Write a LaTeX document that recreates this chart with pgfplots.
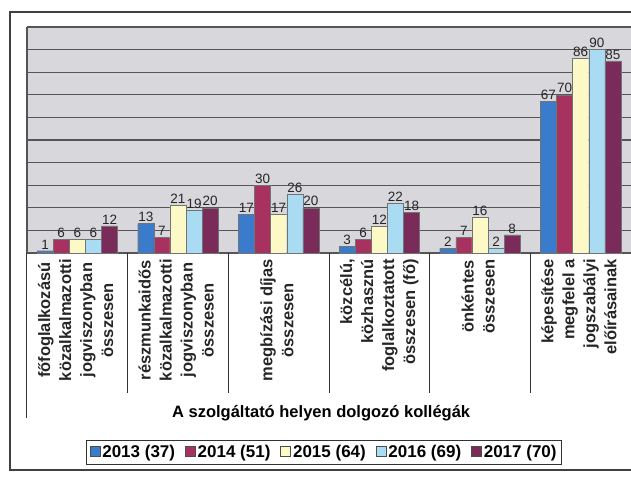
\documentclass[border=0pt]{standalone}
\usepackage{fontspec}
\setmainfont{Liberation Sans}
\usepackage{pgfplots}
\pgfplotsset{compat=1.18}

\definecolor{y13}{HTML}{3A7CCB}
\definecolor{y14}{HTML}{A8325F}
\definecolor{y15}{HTML}{FCF9C6}
\definecolor{y16}{HTML}{A9DBF2}
\definecolor{y17}{HTML}{7A2B5A}
\definecolor{plotbg}{HTML}{D8D8DC}
\definecolor{gridc}{HTML}{555555}

% category label blocks: centred or flush to the axis
\newcommand{\catc}[1]{\begin{tabular}{@{}c@{}}#1\end{tabular}}
\newcommand{\catr}[1]{\begin{tabular}{@{}r@{}}#1\end{tabular}}

\begin{document}
\begin{tikzpicture}
\begin{axis}[
    scale only axis,
    width=604pt, height=226pt,
    clip=false,
    ybar=0pt, bar width=0.16,
    xmin=-0.5, xmax=5.5,
    ymin=0, ymax=100,
    ytick={0,10,...,100},
    yticklabels={},
    ymajorgrids,
    major grid style={draw=gridc, line width=1.3pt},
    major tick length=0pt,
    axis background/.style={fill=plotbg},
    axis lines*=left,
    axis line style={draw=gridc, line width=1.3pt},
    xtick={0,...,5},
    xticklabels={
        {\catc{főfoglalkozású\\közalkalmazotti\\jogviszonyban\\összesen}},
        {\catc{részmunkaidős\\közalkalmazotti\\jogviszonyban\\összesen}},
        {\catc{megbízási díjas\\összesen}},
        {\catr{közcélú,\\közhasznú\\foglalkoztatott\\összesen (fő)}},
        {\catc{önkéntes\\összesen}},
        {\catr{képesítése\\megfelel a\\jogszabályi\\előírásainak}}},
    xticklabel shift=4pt,
    xticklabel style={rotate=90, anchor=east, inner sep=2pt,
        font=\bfseries\fontsize{16.5}{21}\selectfont, text=black!85},
    /pgf/number format/assume math mode=true,
    nodes near coords,
    every node near coord/.append style={font=\fontsize{13.5}{13.5}\selectfont, text=black!85, inner sep=1.5pt},
    xlabel={A szolgáltató helyen dolgozó kollégák},
    xlabel style={at={(axis description cs:0.487,-0.708)}, anchor=center,
        font=\bfseries\fontsize{16.5}{18}\selectfont},
    legend columns=5,
    legend style={at={(axis description cs:0.492,-0.883)}, anchor=center,
        draw=black!80, line width=0.8pt, inner sep=3pt,
        font=\bfseries\fontsize{17}{19}\selectfont,
        /tikz/every even column/.append style={column sep=8pt}},
    legend image code/.code={\draw[#1, draw=black!70, line width=0.6pt] (0pt,-4pt) rectangle (10pt,6pt);},
]
\addplot[fill=y13, draw=black!55] coordinates {(0,1) (1,13) (2,17) (3,3) (4,2) (5,67)};
\addplot[fill=y14, draw=black!55] coordinates {(0,6) (1,7) (2,30) (3,6) (4,7) (5,70)};
\addplot[fill=y15, draw=black!55] coordinates {(0,6) (1,21) (2,17) (3,12) (4,16) (5,86)};
\addplot[fill=y16, draw=black!55] coordinates {(0,6) (1,19) (2,26) (3,22) (4,2) (5,90)};
\addplot[fill=y17, draw=black!55] coordinates {(0,12) (1,20) (2,20) (3,18) (4,8) (5,85)};
\legend{2013 (37), 2014 (51), 2015 (64), 2016 (69), 2017 (70)}
\draw[gridc, line width=1.3pt] (rel axis cs:0,1) -- (rel axis cs:1,1);
\pgfplotsinvokeforeach{0.5,1.5,2.5,3.5,4.5}{
    \draw[black!80, line width=1pt] (axis cs:#1,0) -- ++(0pt,-140pt);
}
\draw[black!80, line width=1pt] (axis cs:-0.5,0) -- ++(0pt,-165pt);
\end{axis}
\draw[black!75, line width=1.2pt] (620pt,241pt) -- (-17pt,241pt) -- (-17pt,-217pt) -- (620pt,-217pt);
\pgfresetboundingbox
\path[use as bounding box] (-27pt,-224pt) rectangle (604pt,253pt);
\end{tikzpicture}
\end{document}
